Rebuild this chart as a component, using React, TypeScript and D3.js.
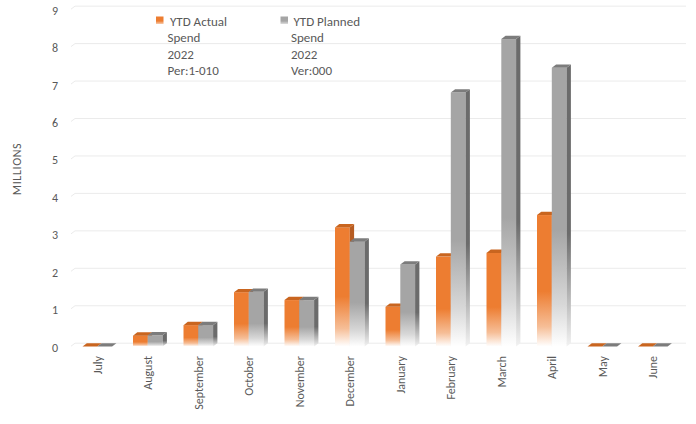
import React from "react";
import * as d3 from "d3";

const months = ["July", "August", "September", "October", "November", "December", "January", "February", "March", "April", "May", "June"];
const actual = [0, 0.29, 0.57, 1.45, 1.24, 3.18, 1.06, 2.4, 2.5, 3.51, 0, 0];
const planned = [0, 0.3, 0.57, 1.46, 1.24, 2.8, 2.19, 6.78, 8.21, 7.44, 0, 0];
const yTicks = [0, 1, 2, 3, 4, 5, 6, 7, 8, 9];
const seriesKeys = ["actual", "planned"];
const legendLines = [
  ["YTD Actual", "Spend", "2022", "Per:1-010"],
  ["YTD Planned", "Spend", "2022", "Ver:000"],
];

const W = 696;
const H = 424;
const FONT = "Calibri, Carlito, Lato, 'Open Sans', sans-serif";
const TXT = "#595959";

const DX = 4.3;
const DY = 3.3;

const colors: Record<string, { front: string; side: string; top: string }> = {
  actual: { front: "#ED7D31", side: "#B65C22", top: "#C9651F" },
  planned: { front: "#A5A5A5", side: "#6B6B6B", top: "#7C7C7C" },
};

export default function App() {
  const x = d3.scaleBand<string>().domain(months).range([72.05, 678.05]).padding(0);
  const y = d3.scaleLinear().domain([0, 9]).range([346.5, 346.5 - 9 * 37.45]);
  const data: Record<string, number[]> = { actual, planned };

  const bars: JSX.Element[] = [];
  months.forEach((m, i) => {
    const c = (x(m) as number) + x.bandwidth() / 2;
    const inner = d3.scaleBand<string>().domain(seriesKeys).range([c - 14.8, c + 14.8]).padding(0);
    seriesKeys.forEach((k) => {
      const v = data[k][i];
      const x0 = inner(k) as number;
      const x1 = x0 + inner.bandwidth();
      const yt = y(v);
      const yb = y(0);
      const col = colors[k];
      const h = yb - yt;
      bars.push(
        <g key={m + k}>
          {h > 0.5 && (
            <rect x={x0} y={yt} width={x1 - x0} height={h} fill={`url(#front-${k})`} />
          )}
          {h > 0.5 && (
            <path
              d={`M${x1},${yt} L${x1 + DX},${yt - DY} L${x1 + DX},${yb - DY} L${x1},${yb} Z`}
              fill={`url(#side-${k})`}
            />
          )}
          <path
            d={`M${x0},${yt} L${x0 + DX},${yt - DY} L${x1 + DX},${yt - DY} L${x1},${yt} Z`}
            fill={col.top}
          />
        </g>
      );
    });
  });

  return (
    <svg width={W} height={H} style={{ position: "absolute", left: 0, top: 0, background: "#fff" }}>
      <defs>
        {seriesKeys.map((k) => (
          <linearGradient key={"f" + k} id={`front-${k}`} x1="0" y1="0" x2="0" y2="1">
            <stop offset="0" stopColor={colors[k].front} />
            <stop offset="0.58" stopColor={colors[k].front} />
            <stop offset="0.85" stopColor={k === "actual" ? "#F6BE97" : "#D8D8D8"} />
            <stop offset="1" stopColor="#FFFFFF" />
          </linearGradient>
        ))}
        {seriesKeys.map((k) => (
          <linearGradient key={"s" + k} id={`side-${k}`} x1="0" y1="0" x2="0" y2="1">
            <stop offset="0" stopColor={colors[k].side} />
            <stop offset="0.6" stopColor={colors[k].side} />
            <stop offset="1" stopColor="#F2F2F2" />
          </linearGradient>
        ))}
        {seriesKeys.map((k) => (
          <linearGradient key={"l" + k} id={`leg-${k}`} x1="0" y1="0" x2="0" y2="1">
            <stop offset="0" stopColor={colors[k].front} />
            <stop offset="0.6" stopColor={colors[k].front} />
            <stop offset="1" stopColor={k === "actual" ? "#F8CBAD" : "#DDDDDD"} />
          </linearGradient>
        ))}
      </defs>

      {yTicks.map((t) => (
        <g key={"g" + t}>
          <line x1={75} x2={686} y1={y(t) - DY} y2={y(t) - DY} stroke="#EBEBEB" strokeWidth={1} />
          <line x1={71} x2={75} y1={y(t) - DY + 3} y2={y(t) - DY} stroke="#EBEBEB" strokeWidth={1} />
        </g>
      ))}

      {yTicks.map((t) => (
        <text
          key={"t" + t}
          x={58}
          y={y(t) + 2.3}
          textAnchor="end"
          dominantBaseline="middle"
          fontFamily={FONT}
          fontSize={12}
          fill={TXT}
        >
          {t}
        </text>
      ))}

      <text
        transform="translate(21,169) rotate(-90)"
        textAnchor="middle"
        fontFamily={FONT}
        fontSize={12}
        letterSpacing={0.6}
        fill={TXT}
      >
        MILLIONS
      </text>

      {bars}

      {months.map((m) => {
        const c = (x(m) as number) + x.bandwidth() / 2;
        return (
          <text
            key={"x" + m}
            transform={`translate(${c + 4.5},356) rotate(-90)`}
            textAnchor="end"
            fontFamily={FONT}
            fontSize={12}
            fill={TXT}
          >
            {m}
          </text>
        );
      })}

      {seriesKeys.map((k, si) => {
        const lx = si === 0 ? 156 : 280.5;
        const tx = si === 0 ? 167.5 : 291;
        return (
          <g key={"leg" + k}>
            <rect x={lx} y={16.5} width={7.5} height={7.5} fill={`url(#leg-${k})`} />
            {legendLines[si].map((line, li) => (
              <text
                key={li}
                x={tx + (li === 0 ? 2.5 : 0)}
                y={25.5 + li * 16.6}
                fontFamily={FONT}
                fontSize={13}
                fill={TXT}
              >
                {line}
              </text>
            ))}
          </g>
        );
      })}
    </svg>
  );
}
